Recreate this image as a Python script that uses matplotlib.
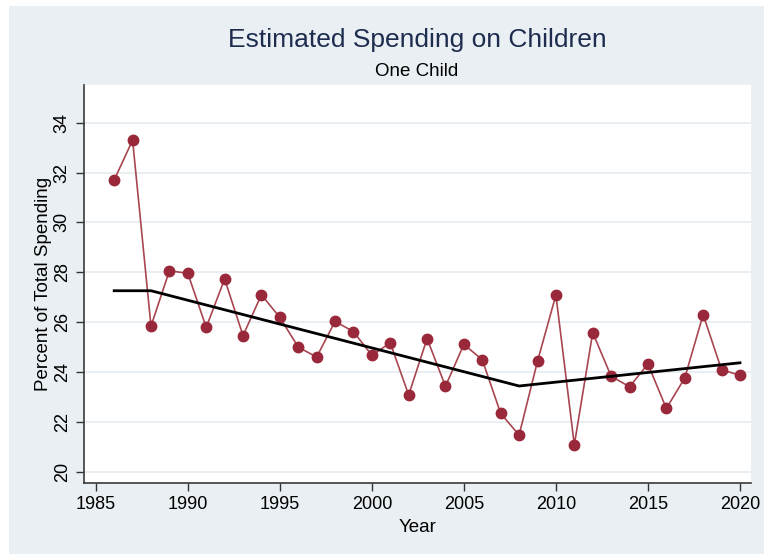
import matplotlib
matplotlib.use("Agg")
import matplotlib.pyplot as plt
from matplotlib.patches import Rectangle

plt.rcParams['font.family'] = ['Liberation Sans', 'DejaVu Sans']

years = list(range(1986, 2021))
spending = [31.70, 33.30, 25.84, 28.06, 27.96, 25.79, 27.73, 25.46, 27.10, 26.19,
            25.00, 24.60, 26.03, 25.62, 24.67, 25.17, 23.08, 25.34, 23.43, 25.11,
            24.49, 22.34, 21.47, 24.43, 27.09, 21.08, 25.58, 23.83, 23.41, 24.32,
            22.54, 23.76, 26.30, 24.09, 23.87]
fit_years = [1986, 1988, 2008, 2020]
fit_values = [27.26, 27.26, 23.44, 24.37]
xticks = [1985, 1990, 1995, 2000, 2005, 2010, 2015, 2020]
yticks = [20, 22, 24, 26, 28, 30, 32, 34]

W, H = 764, 554
fig = plt.figure(figsize=(W / 100, H / 100), dpi=100)
fig.patch.set_facecolor('white')
bg = '#E9EFF2'
fig.patches.append(Rectangle((9 / W, 0), 1 - 9 / W, 1 - 6 / H, transform=fig.transFigure,
                             facecolor=bg, edgecolor='none', zorder=-10))

ax = fig.add_axes([84 / W, (H - 483) / H, (751 - 84) / W, (483 - 85) / H])
ax.set_facecolor('white')

for y in yticks:
    ax.axhline(y, color='#E6EDF0', lw=1.3, zorder=0)

ax.plot(years, spending, color='#A84550', lw=1.2, zorder=2)
ax.plot(years, spending, linestyle='none', marker='o', markersize=7.5,
        markerfacecolor='#99293A', markeredgecolor='#99293A', zorder=3)
ax.plot(fit_years, fit_values, color='black', lw=2.0, zorder=4)

ax.set_xlim(1984.36, 2020.6)
ax.set_ylim(19.55, 35.51)
ax.set_xticks(xticks)
ax.set_yticks(yticks)
ax.set_xticklabels([str(t) for t in xticks], fontsize=13)
ax.set_yticklabels([str(t) for t in yticks], fontsize=13, rotation=90, va='center')
ax.tick_params(axis='both', direction='out', length=5.5, width=1, color='#333333', pad=4)

for s in ['top', 'right']:
    ax.spines[s].set_visible(False)
for s in ['left', 'bottom']:
    ax.spines[s].set_color('#3A3A3A')
    ax.spines[s].set_linewidth(1.2)

ax.set_xlabel('Year', fontsize=13.5, labelpad=4)
ax.set_ylabel('Percent of Total Spending', fontsize=13.5, labelpad=1)

fig.text(417 / W, 1 - 40 / H, 'Estimated Spending on Children', ha='center', va='center',
         fontsize=19, color='#1E2D4F')
fig.text(417 / W, 1 - 72 / H, 'One Child', ha='center', va='center', fontsize=13.5,
         color='black')

fig.savefig('out.png', dpi=100, facecolor=fig.get_facecolor())
